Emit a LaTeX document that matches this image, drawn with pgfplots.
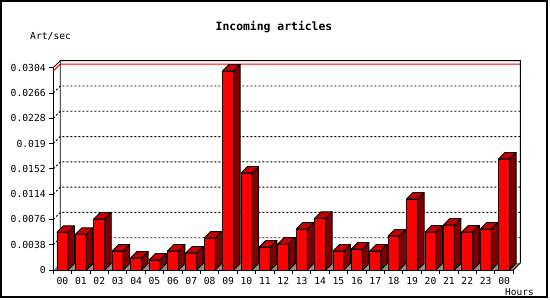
\documentclass[border=0pt]{standalone}
\usepackage{pgfplots}
\pgfplotsset{compat=1.18}
\usepackage{fontspec}
\setmainfont{DejaVu Sans}
\setmonofont{DejaVu Sans Mono}
\definecolor{frontred}{RGB}{255,0,0}
\definecolor{sidered}{RGB}{128,0,0}
\definecolor{topred}{RGB}{200,0,0}
\definecolor{floorgray}{RGB}{144,144,144}
\pgfplotstableread{
x y
0 0.00566
1 0.00536
2 0.00766
3 0.00285
4 0.00180
5 0.00150
6 0.00285
7 0.00255
8 0.00480
9 0.02990
10 0.01458
11 0.00346
12 0.00390
13 0.00616
14 0.00776
15 0.00285
16 0.00316
17 0.00285
18 0.00511
19 0.01067
20 0.00571
21 0.00676
22 0.00571
23 0.00616
24 0.01668
}\hourly
\def\yunit{6654.6}
\begin{document}
\begin{tikzpicture}[x=1pt,y=1pt]
\useasboundingbox (0,0) rectangle (550,300);
\fill[white] (0,0) rectangle (550,300);
\draw[line width=2pt] (1,3) rectangle (547,299);
\node[font=\ttfamily\bfseries\fontsize{11.4}{12}\selectfont] at (274,273.3) {Incoming articles};
\node[font=\ttfamily\fontsize{9.7}{10}\selectfont, anchor=west, inner sep=0pt] at (30,263.3) {Art/sec};
\node[font=\ttfamily\fontsize{9.5}{10}\selectfont, anchor=west, inner sep=0pt] at (505,8.3) {Hours};
\begin{axis}[
  at={(53.3pt,30pt)}, anchor=south west,
  scale only axis, width=460pt, height=202.3pt,
  xmin=-0.5, xmax=24.5, ymin=0, ymax=0.0304,
  clip=false,
  axis x line*=bottom, axis y line*=left,
  axis line style={-, line width=0.9pt},
  every tick/.style={black, line width=0.9pt},
  tick align=outside, major tick length=4pt,
  xtick={-0.5,0.5,...,24.5},
  x tick label as interval,
  xticklabels={00,01,02,03,04,05,06,07,08,09,10,11,12,13,14,15,16,17,18,19,20,21,22,23,00},
  ytick={0,0.0038,0.0076,0.0114,0.0152,0.019,0.0228,0.0266,0.0304},
  yticklabels={0,0.0038,0.0076,0.0114,0.0152,0.019,0.0228,0.0266,0.0304},
  ticklabel style={font=\ttfamily\fontsize{9.7}{10}\selectfont},
  scaled y ticks=false,
]
% floor
\fill[floorgray] (axis cs:-0.5,0) -- (axis cs:24.5,0) -- ([shift={(7pt,7pt)}]axis cs:24.5,0) -- ([shift={(7pt,7pt)}]axis cs:-0.5,0) -- cycle;
% grid lines on back wall and side wall
\pgfplotsinvokeforeach{0.0038,0.0076,0.0114,0.0152,0.019,0.0228,0.0266}{
  \draw[line width=0.9pt, dash pattern=on 2pt off 2pt] (axis cs:-0.5,#1) -- ([shift={(7pt,7pt)}]axis cs:-0.5,#1) -- ([shift={(7pt,7pt)}]axis cs:24.5,#1);
}
% max line
\draw[red, line width=1pt] (axis cs:-0.5,0.0299) -- ([shift={(7pt,7pt)}]axis cs:-0.5,0.0299) -- ([shift={(7pt,7pt)}]axis cs:24.5,0.0299);
% walls
\draw[line width=0.9pt] ([shift={(7pt,7pt)}]axis cs:-0.5,0) -- ([shift={(7pt,7pt)}]axis cs:-0.5,0.0304) -- ([shift={(7pt,7pt)}]axis cs:24.5,0.0304) -- ([shift={(7pt,7pt)}]axis cs:24.5,0) -- (axis cs:24.5,0);
\draw[line width=0.9pt] (axis cs:-0.5,0.0304) -- ([shift={(7pt,7pt)}]axis cs:-0.5,0.0304);
% front faces
\addplot[ybar, bar width=11pt, bar shift=0pt, fill=frontred, draw=black, line width=0.9pt] table[x=x,y=y] {\hourly};
% side and top faces
\addplot[scatter, only marks, mark=*, mark size=0pt,
  visualization depends on={\thisrow{y} \as \yv},
  scatter/@pre marker code/.code={%
    \pgfmathsetmacro\hh{\yv*\yunit}%
    \filldraw[fill=sidered, draw=black, line width=0.9pt, line join=round] (5.5pt,0pt) -- (12pt,6.5pt) -- ({12pt},{6.5pt-\hh pt}) -- ({5.5pt},{-\hh pt}) -- cycle;
    \filldraw[fill=topred, draw=black, line width=0.9pt, line join=round] (-5.5pt,0pt) -- (1pt,6.5pt) -- (12pt,6.5pt) -- (5.5pt,0pt) -- cycle;
  },
  scatter/@post marker code/.code={},
] table[x=x,y=y] {\hourly};
\end{axis}
\end{tikzpicture}
\end{document}
